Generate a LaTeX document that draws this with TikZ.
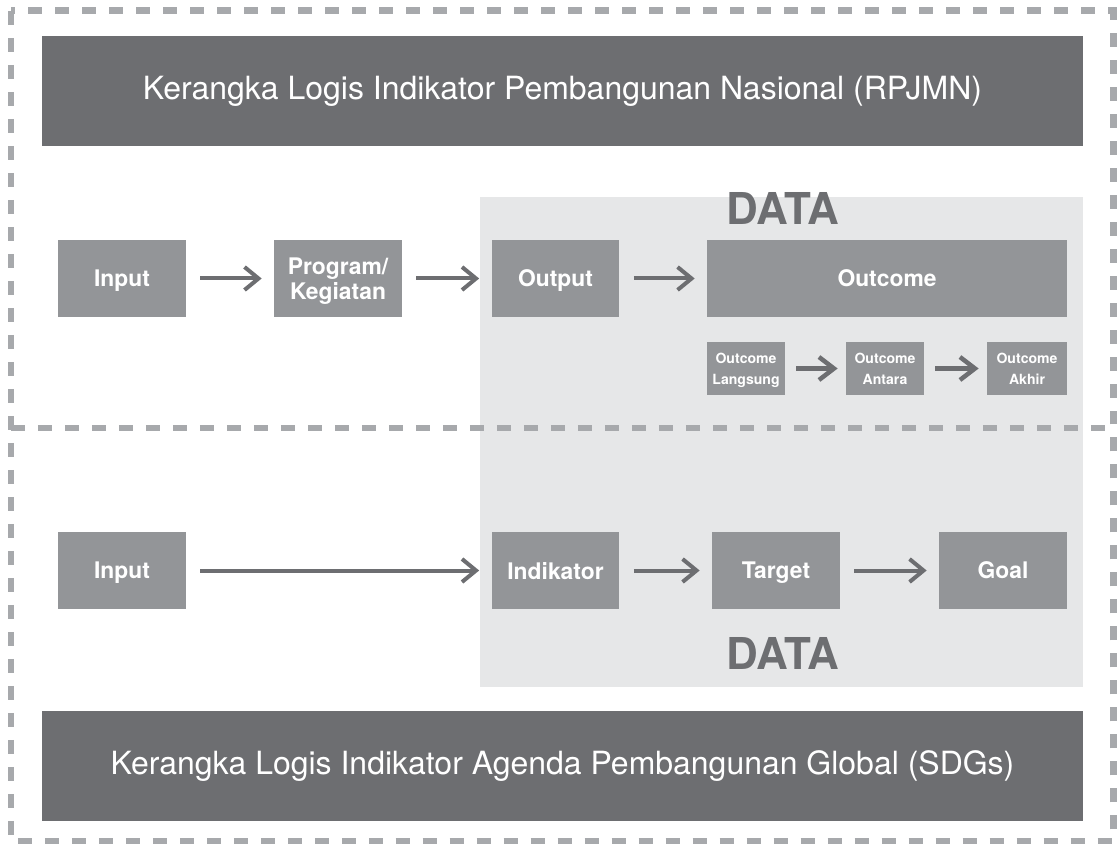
\documentclass[tikz,border=0pt]{standalone}
\usepackage{fontspec}
\setmainfont{TeX Gyre Heros}
\usetikzlibrary{arrows.meta}

\definecolor{darkgr}{HTML}{6D6E71}
\definecolor{midgr}{HTML}{939598}
\definecolor{lightgr}{HTML}{E6E7E8}
\definecolor{dashgr}{HTML}{A7A9AC}

\tikzset{
  framebox/.style={draw=none, fill=darkgr, text=white, minimum width=20.84cm, minimum height=2.2cm, font=\fontsize{18.2}{21}\selectfont},
  stepbox/.style={draw=none, fill=midgr, text=white, minimum width=2.56cm, minimum height=1.56cm, align=center, inner sep=0pt, text depth=0pt, font=\fontsize{13}{14}\selectfont\bfseries},
  smallbox/.style={draw=none, fill=midgr, text=white, minimum width=1.56cm, minimum height=1.06cm, align=center, inner sep=0pt, text depth=0pt, font=\fontsize{8}{12}\selectfont\bfseries},
  flow/.style={draw=darkgr, line width=0.08cm, -{Straight Barb[length=0.28cm, width=0.46cm, line width=0.08cm]}, shorten <=0.28cm, shorten >=0.24cm},
  smallflow/.style={draw=darkgr, line width=0.09cm, -{Straight Barb[length=0.3cm, width=0.46cm, line width=0.09cm]}, shorten <=0.22cm, shorten >=0.16cm},
  datalabel/.style={text=darkgr, font=\fontsize{25}{28}\selectfont\bfseries},
  border/.style={draw=dashgr, line width=0.14cm, dash pattern=on 0.28cm off 0.26cm}
}

\begin{document}
\begin{tikzpicture}[x=0.02cm, y=-0.02cm]
  \useasboundingbox (0,0) rectangle (1119,844);

  % data region
  \fill[lightgr] (480,197) rectangle (1083,687);

  % dashed frame and divider
  \draw[border] (11,11) rectangle (1113,841);
  \draw[border] (11,428) -- (1113,428);

  % title bars
  \node[framebox] (rpjmn) at (562.5,91) {Kerangka Logis Indikator Pembangunan Nasional (RPJMN)};
  \node[framebox] (sdgs) at (562.5,766) {Kerangka Logis Indikator Agenda Pembangunan Global (SDGs)};

  \node[datalabel] (datatop) at (783,208) {DATA};
  \node[datalabel] (databot) at (783,653) {DATA};

  % national chain
  \node[stepbox] (inputa) at (122,278.5) {Input};
  \node[stepbox] (prog) at (338,278.5) {Program/\\Kegiatan};
  \node[stepbox] (output) at (555.5,278.5) {Output};
  \node[stepbox, minimum width=7.2cm] (outcome) at (887,278.5) {Outcome};

  \node[smallbox] (olang) at (746,368.5) {Outcome\\Langsung};
  \node[smallbox] (oantara) at (885,368.5) {Outcome\\Antara};
  \node[smallbox, minimum width=1.6cm] (oakhir) at (1027,368.5) {Outcome\\Akhir};

  \draw[flow] (inputa) -- (prog);
  \draw[flow] (prog) -- (output);
  \draw[flow] (output) -- (outcome);
  \draw[smallflow] (olang) -- (oantara);
  \draw[smallflow] (oantara) -- (oakhir);

  % global chain
  \node[stepbox] (inputb) at (122,570.5) {Input};
  \node[stepbox] (indik) at (555.5,570.5) {Indikator};
  \node[stepbox] (target) at (776,570.5) {Target};
  \node[stepbox] (goal) at (1003,570.5) {Goal};

  \draw[flow] (inputb) -- (indik);
  \draw[flow] (indik) -- (target);
  \draw[flow] (target) -- (goal);
\end{tikzpicture}
\end{document}
